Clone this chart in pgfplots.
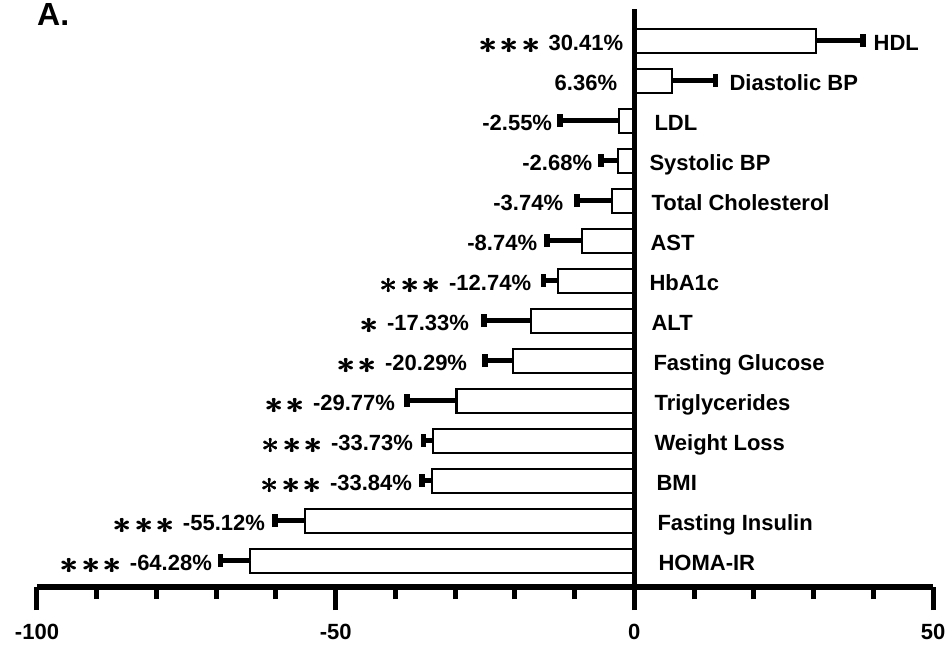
\documentclass[border=0pt]{standalone}
\usepackage{pgfplots}
\pgfplotsset{compat=1.18}
\usepackage{pgfplotstable}
\usepackage{graphicx}
\usepackage{fontspec}
\setmainfont{Liberation Sans}

\protected\def\basestar{\raisebox{-3.2pt}{\scalebox{3.2}{\fontsize{10}{10}\selectfont\boldmath$\ast$}}}
\protected\def\onestar{\rlap{\basestar}\kern0.8pt\basestar}
\protected\def\starA{\onestar\hspace{8pt}}
\protected\def\starB{\onestar\hspace{2.2pt}\onestar\hspace{8pt}}
\protected\def\starC{\onestar\hspace{2.2pt}\onestar\hspace{2.2pt}\onestar\hspace{8pt}}

\pgfplotstableread[col sep=comma]{
y,name,v,e,lx,nx,vt
0,HDL,30.41,7.9,40.03,-1.84,\starC30.41
1,Diastolic BP,6.36,7.2,15.91,-2.85,6.36
2,LDL,-2.55,9.9,3.35,-13.74,-2.55
3,Systolic BP,-2.68,2.9,2.51,-7.04,-2.68
4,Total Cholesterol,-3.74,5.9,2.85,-11.89,-3.74
5,AST,-8.74,5.9,2.68,-16.25,-8.74
6,HbA1c,-12.74,2.5,2.51,-17.25,\starC-12.74
7,ALT,-17.33,7.8,2.85,-27.64,\starA-17.33
8,Fasting Glucose,-20.29,4.7,3.18,-27.97,\starB-20.29
9,Triglycerides,-29.77,8.3,3.35,-40.03,\starB-29.77
10,Weight Loss,-33.73,1.6,3.35,-37.02,\starC-33.73
11,BMI,-33.84,1.7,3.69,-37.19,\starC-33.84
12,Fasting Insulin,-55.12,5.0,3.85,-61.81,\starC-55.12
13,HOMA-IR,-64.28,5.0,4.02,-70.69,\starC-64.28
}\datatable

\begin{document}
\begin{tikzpicture}
\useasboundingbox (-37pt,-58pt) rectangle (913pt,587pt);
\begin{axis}[
  scale only axis,
  width=896pt, height=578pt,
  xmin=-100, xmax=50,
  ymin=-0.79, ymax=13.66,
  y dir=reverse,
  axis x line=bottom,
  axis y line=none,
  x axis line style={-, line width=6pt},
  ytick=\empty,
  xtick={-100,-50,0,50},
  xticklabels={{-100},{-50},{0},{50}},
  minor xtick={-90,-80,-70,-60,-40,-30,-20,-10,10,20,30,40},
  tick align=outside,
  major tick length=23pt,
  minor tick length=12pt,
  tick style={black, line width=5pt},
  xticklabel style={font=\bfseries\fontsize{22}{26}\selectfont, anchor=north, yshift=-11pt},
  clip=false,
]
% bars, positive (error to the right)
\addplot[xbar, bar width=24pt, bar shift=0pt, fill=white, draw=black, line width=2.2pt,
  restrict x to domain=0:100,
  error bars/x dir=plus, error bars/x explicit,
  error bars/error bar style={line width=5.5pt},
  error bars/error mark=|,
  error bars/error mark options={black, line width=5.5pt, mark size=6.5pt}]
  table[x=v, y=y, x error=e] {\datatable};
% bars, negative (error to the left)
\addplot[xbar, bar width=24pt, bar shift=0pt, fill=white, draw=black, line width=2.2pt,
  restrict x to domain=-100:0,
  error bars/x dir=minus, error bars/x explicit,
  error bars/error bar style={line width=5.5pt},
  error bars/error mark=|,
  error bars/error mark options={black, line width=5.5pt, mark size=6.5pt}]
  table[x=v, y=y, x error=e] {\datatable};
% vertical zero line
\addplot[black, line width=5pt, mark=none] coordinates {(0,-0.79) (0,13.66)};
% category labels
\addplot[only marks, mark=*, mark size=0pt, mark options={draw=none, fill=none},
  nodes near coords, point meta=explicit symbolic,
  every node near coord/.append style={anchor=west, inner sep=0pt, text height=15.8pt, text depth=0pt, yshift=-2pt,
    font=\bfseries\fontsize{22}{26}\selectfont, black}]
  table[x=lx, y=y, meta=name] {\datatable};
% value labels with significance stars
\addplot[only marks, mark=*, mark size=0pt, mark options={draw=none, fill=none},
  nodes near coords={\pgfplotspointmeta\%},
  point meta=explicit symbolic,
  every node near coord/.append style={anchor=east, inner sep=0pt, text height=15.8pt, text depth=0pt, yshift=-2pt,
    font=\bfseries\fontsize{22}{26}\selectfont, black}]
  table[x=nx, y=y, meta=vt] {\datatable};
\end{axis}
\node[anchor=base west, inner sep=0pt, font=\bfseries\fontsize{32}{36}\selectfont] at (0pt,561pt) {A.};
\end{tikzpicture}
\end{document}
